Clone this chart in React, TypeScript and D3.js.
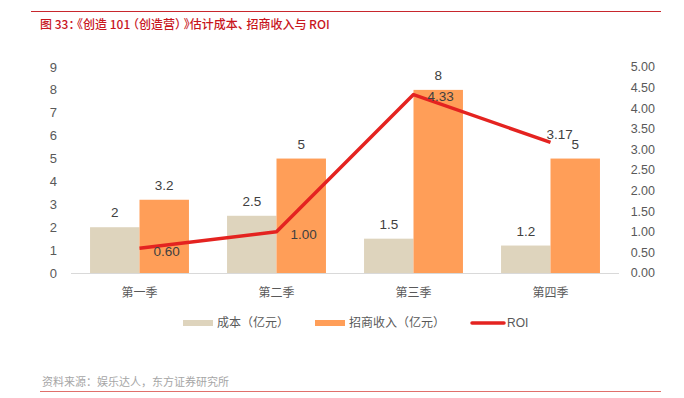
import React from "react";
import * as d3 from "d3";

const categories = ["第一季", "第二季", "第三季", "第四季"];
const cost = [2, 2.5, 1.5, 1.2];
const revenue = [3.2, 5, 8, 5];
const roi = [0.6, 1.0, 4.33, 3.17];
const leftTicks = [0, 1, 2, 3, 4, 5, 6, 7, 8, 9];
const rightTicks = [0, 0.5, 1, 1.5, 2, 2.5, 3, 3.5, 4, 4.5, 5];
const roiLabelOffsets: [number, number][] = [
  [14, 3],
  [14, 2],
  [14, 2],
  [-4, -8],
];

const W = 684;
const H = 398;
const FONT = "'Noto Sans CJK SC', 'Noto Sans', sans-serif";
const NUMFONT = "'Liberation Sans', 'DejaVu Sans', sans-serif";
const COST_C = "#DED4BD";
const REV_C = "#FF9E58";
const ROI_C = "#E42320";
const TXT = "#595959";

export default function App() {
  const x0 = d3.scaleBand<string>().domain(categories).range([71, 619]).paddingInner(0).paddingOuter(0);
  const inner = d3.scaleBand<string>().domain(["cost", "rev"]).range([0, x0.bandwidth()]).paddingOuter(0.385).paddingInner(0);
  const yL = d3.scaleLinear().domain([0, 9]).range([273, 67]);
  const yR = d3.scaleLinear().domain([0, 5]).range([273, 67]);
  const cx = (c: string) => (x0(c) as number) + x0.bandwidth() / 2;
  const line = d3
    .line<number>()
    .x((_, i) => cx(categories[i]))
    .y((d) => yR(d));

  return (
    <svg width={W} height={H} style={{ position: "absolute", left: 0, top: 0, background: "#fff" }} fontFamily={FONT}>
      <line x1={31} x2={661} y1={11.5} y2={11.5} stroke="#C8272D" strokeWidth={1} />
      <text
        x={40}
        y={29}
        fontSize={12}
        fontWeight={500}
        fill="#C8161D"
        style={{ fontFeatureSettings: '"halt"' }}
      >
        图 33： 《创造 101 （创造营） 》估计成本、 招商收入与 ROI
      </text>

      {leftTicks.map((t) => (
        <text key={"l" + t} x={57} y={yL(t)} dy="0.35em" fontSize={13} fill={TXT} textAnchor="end" fontFamily={NUMFONT}>
          {t}
        </text>
      ))}
      {rightTicks.map((t) => (
        <text key={"r" + t} x={655} y={yR(t)} dy="0.35em" fontSize={12.5} fill={TXT} textAnchor="end" fontFamily={NUMFONT}>
          {t.toFixed(2)}
        </text>
      ))}

      {categories.map((c, i) => {
        const bx = x0(c) as number;
        const xc = bx + (inner("cost") as number);
        const xr = bx + (inner("rev") as number);
        const bw = inner.bandwidth();
        return (
          <g key={c}>
            <rect x={xc} y={yL(cost[i])} width={bw} height={yL(0) - yL(cost[i])} fill={COST_C} />
            <rect x={xr} y={yL(revenue[i])} width={bw} height={yL(0) - yL(revenue[i])} fill={REV_C} />
            <text x={xc + bw / 2} y={yL(cost[i]) - 10} fontSize={13.5} fill="#404040" textAnchor="middle" fontFamily={NUMFONT}>
              {cost[i]}
            </text>
            <text x={xr + bw / 2} y={yL(revenue[i]) - 10} fontSize={13.5} fill="#404040" textAnchor="middle" fontFamily={NUMFONT}>
              {revenue[i]}
            </text>
            <text x={cx(c)} y={293} dy="0.35em" fontSize={12} fill={TXT} textAnchor="middle">
              {c}
            </text>
          </g>
        );
      })}

      <line x1={71} x2={619} y1={273.5} y2={273.5} stroke="#D9D9D9" strokeWidth={1} />

      <path d={line(roi) || ""} fill="none" stroke={ROI_C} strokeWidth={3.5} strokeLinejoin="round" />
      {roi.map((r, i) => (
        <text
          key={"roi" + i}
          x={cx(categories[i]) + roiLabelOffsets[i][0]}
          y={yR(r) + roiLabelOffsets[i][1]}
          dy="0.35em"
          fontSize={13.5}
          fill="#404040"
          fontFamily={NUMFONT}
        >
          {r.toFixed(2)}
        </text>
      ))}

      <g fontSize={12} fill={TXT}>
        <rect x={183} y={320} width={30} height={6} fill={COST_C} />
        <text x={217} y={323} dy="0.35em">成本（亿元）</text>
        <rect x={315} y={320} width={30} height={6} fill={REV_C} />
        <text x={349} y={323} dy="0.35em">招商收入（亿元）</text>
        <line x1={472} x2={504} y1={323} y2={323} stroke={ROI_C} strokeWidth={3.5} strokeLinecap="round" />
        <text x={507} y={323} dy="0.35em" fontFamily={NUMFONT}>ROI</text>
      </g>

      <text x={42} y={382} dy="0.35em" fontSize={11} fill="#A6A6A6">
        资料来源：娱乐达人，东方证券研究所
      </text>
      <line x1={40} x2={661} y1={391.5} y2={391.5} stroke="#E0706B" strokeWidth={1} />
    </svg>
  );
}
